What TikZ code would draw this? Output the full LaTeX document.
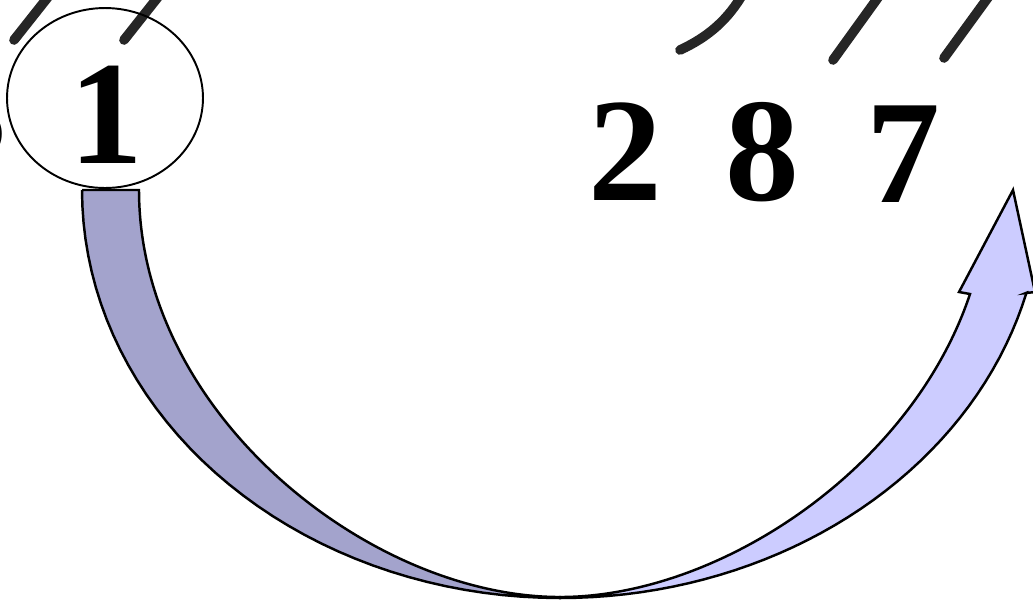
\documentclass[tikz,border=0pt]{standalone}
\usepackage{fontspec}
\setmainfont{Liberation Serif}
\usepackage{tikz}
\usetikzlibrary{shapes.geometric}
\usepackage{xcolor}
\definecolor{backblue}{RGB}{163,163,204}
\definecolor{frontblue}{RGB}{204,204,255}
\tikzset{
  digit/.style={anchor=base, inner sep=0pt, font=\fontsize{84}{84}\selectfont\bfseries},
  stroke/.style={line width=5.5pt, line cap=round, black!85},
  band/.style={line width=1.4pt, line join=miter, draw=black}
}

\begin{document}
\begin{tikzpicture}[x=0.02cm, y=-0.02cm]
    \useasboundingbox (0,0) rectangle (1033,600);
    \clip (0,0) rectangle (1033,600);
    \draw[stroke] (14,40) -- (52,-8);
    \draw[stroke] (124,40) -- (162,-8);
    \draw[stroke] (680,50) .. controls (708,37) and (728,20) .. (744,-8);
    \draw[stroke] (833,60) -- (882,-8);
    \draw[stroke] (944,58) -- (992,-8);
    \node[digit] (three) at (-30,160) {3};
    \node[digit] (one) at (106,163) {1};
    \node[digit] (two) at (625,200) {2};
    \node[digit] (eight) at (762,200) {8};
    \node[digit] (seven) at (903,202) {7};
    \node[draw, ellipse, line width=1.1pt, minimum width=3.92cm, minimum height=3.6cm, inner sep=0pt] (ring) at (105,98) {};
    \filldraw[band, fill=backblue] (82,190) -- (139,190)
        .. controls (139,414) and (370,597) .. (560,597)
        -- plot[variable=\t, domain=90:180, samples=40] ({560+478*cos(\t)}, {190+408*sin(\t)}) -- cycle;
    \filldraw[band, fill=frontblue] (560,597)
        .. controls (720,597) and (912,468) .. (970,294)
        -- (959,292) -- (1013,190) -- (1035,292) -- (1026,293)
        -- plot[variable=\t, domain=14.6:90, samples=40] ({560+482*cos(\t)}, {190+408*sin(\t)}) -- cycle;
\end{tikzpicture}
\end{document}
